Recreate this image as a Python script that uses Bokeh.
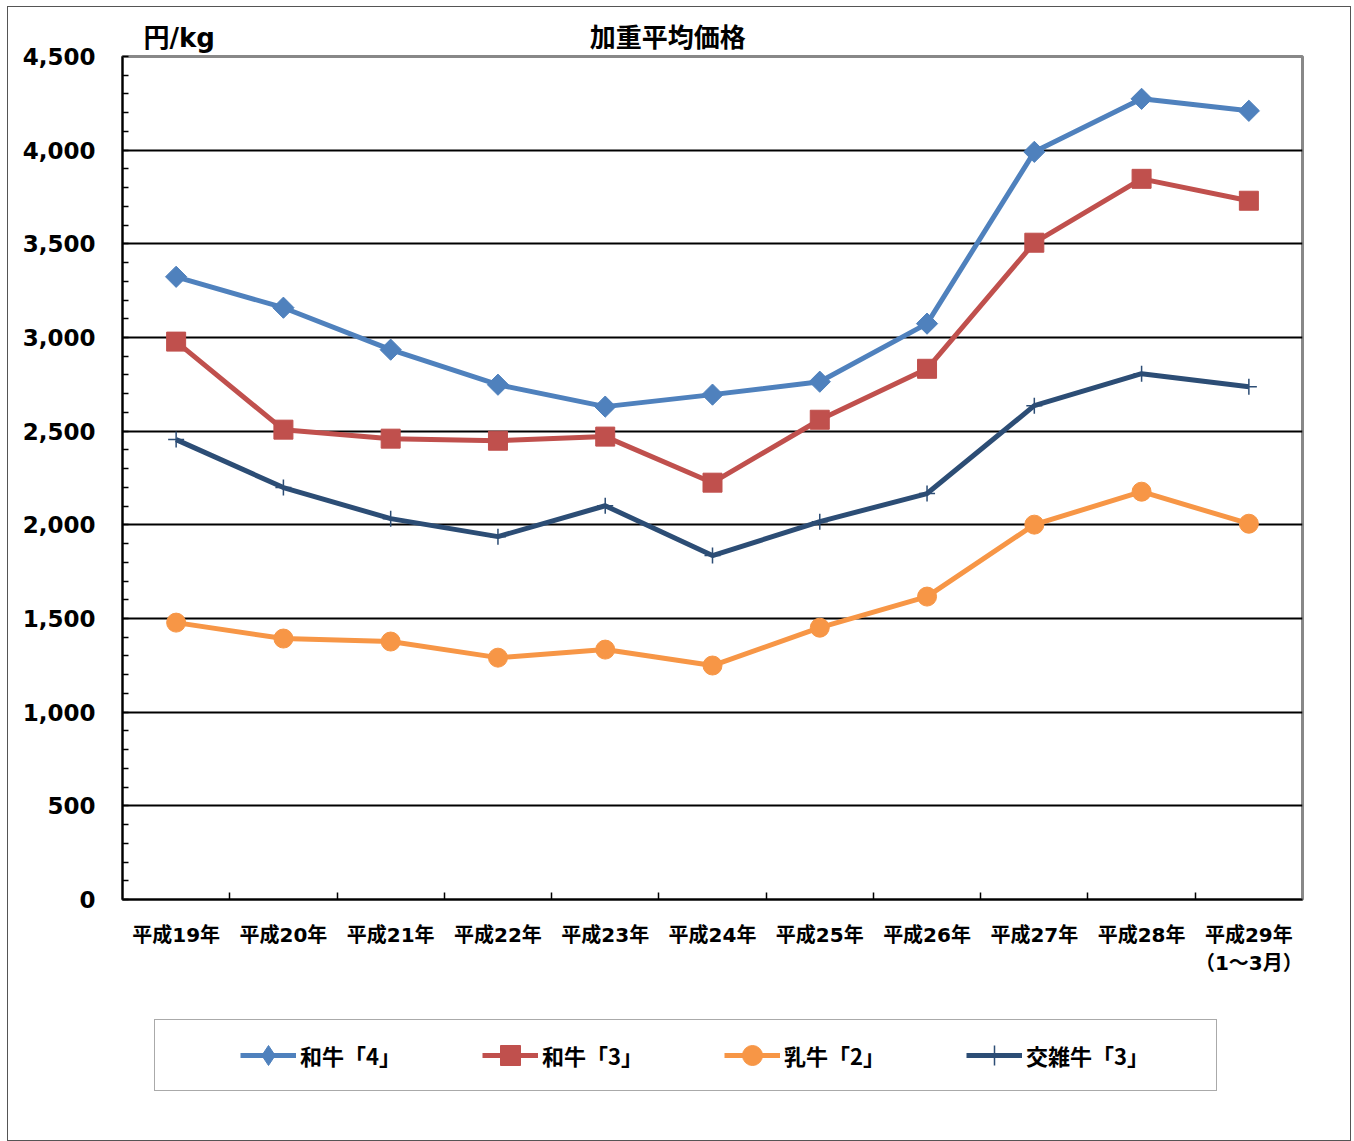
import numpy as np
from bokeh.plotting import figure
from bokeh.layouts import column
from bokeh.models import (Range1d, FixedTicker, NumeralTickFormatter, Legend,
                          LegendItem, Title, ColumnDataSource)
from bokeh.embed import file_html
from bokeh.resources import INLINE

categories = ["平成19年", "平成20年", "平成21年", "平成22年", "平成23年", "平成24年",
              "平成25年", "平成26年", "平成27年", "平成28年", "平成29年\n（1～3月）"]
wagyu4 = [3324, 3159, 2935, 2748, 2631, 2695, 2764, 3074, 3991, 4274, 4210]
wagyu3 = [2978, 2508, 2460, 2449, 2471, 2225, 2561, 2833, 3506, 3847, 3730]
nyugyu2 = [1478, 1393, 1377, 1291, 1334, 1249, 1451, 1617, 2001, 2177, 2006]
kozatsu3 = [2455, 2199, 2033, 1937, 2102, 1836, 2017, 2167, 2636, 2807, 2737]
series_names = ["和牛「4」", "和牛「3」", "乳牛「2」", "交雑牛「3」"]
y_ticks = [0, 500, 1000, 1500, 2000, 2500, 3000, 3500, 4000, 4500]
unit_label = "円/kg"
chart_title = "加重平均価格"

JP = "Noto Sans CJK JP"
NUM = "DejaVu Sans"
MIX = f"{NUM}, {JP}"

xs = list(range(len(categories)))

p = figure(frame_width=1180, frame_height=843, min_border_left=114, min_border_right=48,
           min_border_top=49, min_border_bottom=100, output_backend="svg",
           toolbar_location=None, x_range=Range1d(-0.5, len(categories) - 0.5),
           y_range=Range1d(0, 4500))
p.background_fill_color = "white"
p.border_fill_color = "white"
p.outline_line_color = "#888888"
p.outline_line_width = 3

gap = "\u3000" * 14 + "\u2005\u2006"
p.title = Title(text=unit_label + gap + chart_title, align="left", offset=21,
                text_font=MIX, text_font_style="bold", text_font_size="26px",
                text_color="black", standoff=8)

# x axis
xa = p.xaxis[0]
xa.ticker = FixedTicker(ticks=xs, minor_ticks=[i + 0.5 for i in xs[:-1]])
xa.major_label_overrides = {i: c for i, c in zip(xs, categories)}
xa.major_tick_in = 0
xa.major_tick_out = 0
xa.minor_tick_in = 7
xa.minor_tick_out = 0
xa.minor_tick_line_color = "black"
xa.minor_tick_line_width = 1.5
xa.axis_line_color = "black"
xa.axis_line_width = 2
xa.major_label_text_font = MIX
xa.major_label_text_font_style = "bold"
xa.major_label_text_font_size = "20px"
xa.major_label_text_color = "black"
xa.major_label_standoff = 23

# y axis
ya = p.yaxis[0]
ya.ticker = FixedTicker(ticks=y_ticks, minor_ticks=list(range(0, 4501, 100)))
ya.formatter = NumeralTickFormatter(format="0,0")
ya.major_tick_in = 0
ya.major_tick_out = 0
ya.minor_tick_in = 6
ya.minor_tick_out = 0
ya.minor_tick_line_color = "black"
ya.minor_tick_line_width = 1.5
ya.axis_line_color = "black"
ya.axis_line_width = 2
ya.major_label_text_font = NUM
ya.major_label_text_font_style = "bold"
ya.major_label_text_font_size = "23px"
ya.major_label_text_color = "black"
ya.major_label_standoff = 27

p.xgrid.grid_line_color = None
p.ygrid.ticker = FixedTicker(ticks=y_ticks[1:-1])
p.ygrid.grid_line_color = "black"
p.ygrid.grid_line_width = 1.8

colors = ["#4F81BD", "#C0504D", "#F79646", "#2C4D75"]
markers = [("square", np.pi / 4, 15), ("square", 0, 19), ("circle", 0, 19), ("cross", 0, 16)]
legend_markers = [("diamond", 0, 15), ("square", 0, 19), ("circle", 0, 19), ("cross", 0, 16)]
data = [wagyu4, wagyu3, nyugyu2, kozatsu3]


def add_series(fig, src, col, mk_spec):
    marker, ang, size = mk_spec
    ln = fig.line("x", "y", source=src, line_color=col, line_width=5)
    if marker == "cross":
        mk = fig.scatter("x", "y", source=src, marker=marker, size=size,
                         line_color=col, line_width=1.5)
    else:
        mk = fig.scatter("x", "y", source=src, marker=marker, angle=ang, size=size,
                         fill_color=col, line_color=col)
    return ln, mk


for vals, col, spec in zip(data, colors, markers):
    add_series(p, ColumnDataSource(dict(x=xs, y=vals)), col, spec)

# legend strip below the chart (same series, drawn outside its visible range)
p2 = figure(frame_width=1342, frame_height=141, min_border=0, output_backend="svg",
            toolbar_location=None, x_axis_type=None, y_axis_type=None,
            x_range=Range1d(-1000, -999), y_range=Range1d(-1000, -999))
p2.outline_line_color = None
p2.background_fill_color = "white"
p2.border_fill_color = "white"
p2.xgrid.grid_line_color = None
p2.ygrid.grid_line_color = None

items = []
for name, vals, col, spec in zip(series_names, data, colors, legend_markers):
    ln, mk = add_series(p2, ColumnDataSource(dict(x=xs, y=vals)), col, spec)
    items.append(LegendItem(label=name, renderers=[ln, mk]))

legend = Legend(items=items, orientation="horizontal", location=(146, 49), margin=0,
                glyph_width=56, glyph_height=50, label_standoff=4, label_width=180,
                spacing=2, padding=10, border_line_color="#555555", border_line_width=1.5,
                label_text_font=JP, label_text_font_style="bold", label_text_font_size="22px",
                label_text_color="black", title=" ", title_location="left",
                title_text_font_size="1px", title_standoff=74,
                background_fill_color="white", background_fill_alpha=1)
p2.add_layout(legend, "center")

layout = column(p, p2, spacing=0,
                styles={"border": "1px solid #555", "margin-left": "7px", "margin-top": "6px"})

open("out.html", "w").write(file_html(layout, INLINE))
